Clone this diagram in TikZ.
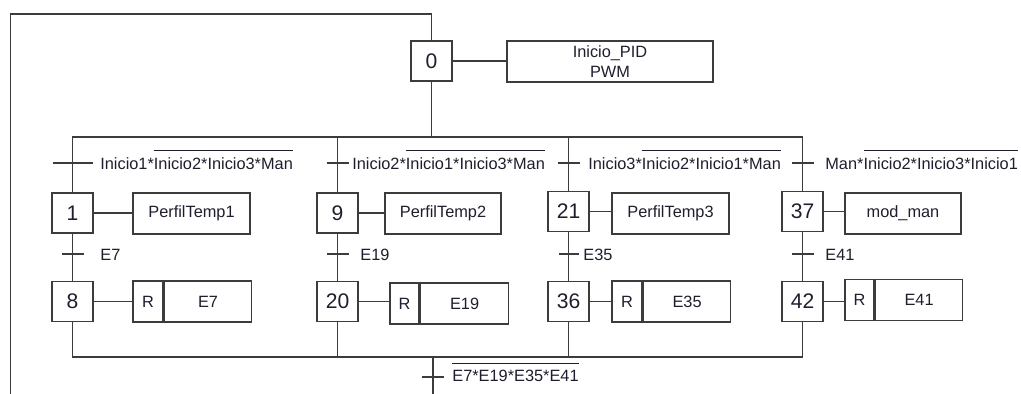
\documentclass[tikz,border=0pt]{standalone}
\usepackage{fontspec}
\setmainfont{Liberation Sans}
\usepackage{tikz}
\usetikzlibrary{positioning}
\usepackage{xcolor}
\definecolor{trazo}{RGB}{60,60,60}
\definecolor{texto}{RGB}{30,30,45}
\newcommand{\negada}[1]{\ensuremath{\overline{\mbox{\rule{0pt}{1.02em}#1}}}}

\begin{document}
\begin{tikzpicture}[x=0.02cm,y=-0.02cm,
  etapa/.style={draw=trazo,line width=0.9pt,minimum width=0.82cm,minimum height=0.8cm,
                inner sep=0pt,text=texto,font=\fontsize{12}{14}\selectfont},
  accion/.style={draw=trazo,line width=0.9pt,minimum height=0.82cm,inner sep=0pt,
                 align=center,text=texto,font=\fontsize{9.3}{11}\selectfont},
  rbox/.style={accion,minimum width=0.6cm},
  linea/.style={draw=trazo,line width=0.75pt},
  cond/.style={anchor=base west,inner sep=0pt,text=texto,font=\fontsize{9.3}{11}\selectfont},
]
\useasboundingbox (0,0) rectangle (1021,394);
% etapa inicial
\node[etapa] (s0) at (431.5,61) {0};
\node[accion,minimum width=4.12cm] (a0) at (610,61.5) {Inicio\_PID\\PWM};
\draw[linea] (s0) -- (s0 -| a0.west);
% etapas de cada rama
\node[etapa] (s1) at (72.5,213) {1};
\node[accion,minimum width=2.34cm] (a1) at (191.5,213.5) {PerfilTemp1};
\node[etapa] (s8) at (72.5,301.5) {8};
\node[rbox] (r8) at (148,301.5) {R};
\node[accion,minimum width=1.74cm,anchor=west] (a8) at (r8.east) {E7};
\node[etapa] (s9) at (337.5,213) {9};
\node[accion,minimum width=2.32cm] (a9) at (443,213.5) {PerfilTemp2};
\node[etapa] (s20) at (337.5,301.5) {20};
\node[rbox,minimum width=0.58cm] (r20) at (404.5,303.5) {R};
\node[accion,minimum width=1.76cm,anchor=west] (a20) at (r20.east) {E19};
\node[etapa] (s21) at (568.5,211.5) {21};
\node[accion,minimum width=2.34cm] (a21) at (670.5,213.5) {PerfilTemp3};
\node[etapa] (s36) at (568.5,301.5) {36};
\node[rbox] (r36) at (627,301.5) {R};
\node[accion,minimum width=1.74cm,anchor=west] (a36) at (r36.east) {E35};
\node[etapa] (s37) at (802.5,211.5) {37};
\node[accion,minimum width=2.32cm] (a37) at (903,213.5) {mod\_man};
\node[etapa] (s42) at (802.5,301.5) {42};
\node[rbox,minimum width=0.58cm] (r42) at (859.5,300) {R};
\node[accion,minimum width=1.74cm,anchor=west] (a42) at (r42.east) {E41};
\draw[linea] (s1) -- (s1 -| a1.west);
\draw[linea] (s9) -- (s9 -| a9.west);
\draw[linea] (s21) -- (s21 -| a21.west);
\draw[linea] (s37) -- (s37 -| a37.west);
\draw[linea] (s8) -- (s8 -| r8.west);
\draw[linea] (s20) -- (s20 -| r20.west);
\draw[linea] (s36) -- (s36 -| r36.west);
\draw[linea] (s42) -- (s42 -| r42.west);
% bucle de retorno
\coordinate (ini) at (10.5,394);
\coordinate (arriba) at (431.5,14);
\draw[linea] (ini) |- (arriba) -- (s0);
% divergencia
\coordinate (div) at (431.5,137);
\draw[linea] (s0) -- (div);
\draw[linea] (s1.north) |- (s37.north |- div) -- (s37.north);
\draw[linea] (s9.north) -- (s9.north |- div);
\draw[linea] (s21.north) -- (s21.north |- div);
% receptividades de entrada
\coordinate (t1) at (72.5,163);
\coordinate (t9) at (337.5,163);
\coordinate (t21) at (568.5,163);
\coordinate (t37) at (802.5,163);
\draw[linea] (t1) +(-20,0) -- +(20,0);
\draw[linea] (t9) +(-11,0) -- +(11,0);
\draw[linea] (t21) +(-11,0) -- +(11,0);
\draw[linea] (t37) +(-11,0) -- +(11,0);
\node[cond] (c1) at (100,169.5) {Inicio1*\negada{Inicio2*Inicio3*Man}};
\node[cond] (c9) at (352,169.5) {Inicio2*\negada{Inicio1*Inicio3*Man}};
\node[cond] (c21) at (588,169.5) {Inicio3*\negada{Inicio2*Inicio1*Man}};
\node[cond] (c37) at (825,169.5) {Man*\negada{Inicio2*Inicio3*Inicio1}};
% receptividades intermedias
\draw[linea] (s1) -- (s8);
\draw[linea] (s9) -- (s20);
\draw[linea] (s21) -- (s36);
\draw[linea] (s37) -- (s42);
\coordinate (e7) at (72.5,254);
\coordinate (e19) at (337.5,254);
\coordinate (e35) at (568.5,254);
\coordinate (e41) at (802.5,254);
\draw[linea] (e7) +(-11,0) -- +(11,0);
\draw[linea] (e19) +(-11,0) -- +(11,0);
\draw[linea] (e35) +(-10,0) -- +(10,0);
\draw[linea] (e41) +(-11,0) -- +(11,0);
\node[cond] (ce7) at (100,261) {E7};
\node[cond] (ce19) at (360,261) {E19};
\node[cond] (ce35) at (583,261) {E35};
\node[cond] (ce41) at (825,261) {E41};
% convergencia
\coordinate (conv) at (433,357);
\draw[linea] (s8.south) |- (s42.south |- conv) -- (s42.south);
\draw[linea] (s20.south) -- (s20.south |- conv);
\draw[linea] (s36.south) -- (s36.south |- conv);
\coordinate (fin) at (433,394);
\coordinate (tf) at (433,377);
\draw[linea] (conv) -- (fin);
\draw[linea] (tf) +(-11,0) -- +(11,0);
\node[cond] (cf) at (452,382) {\negada{E7*E19*E35*E41}};
\end{tikzpicture}
\end{document}
